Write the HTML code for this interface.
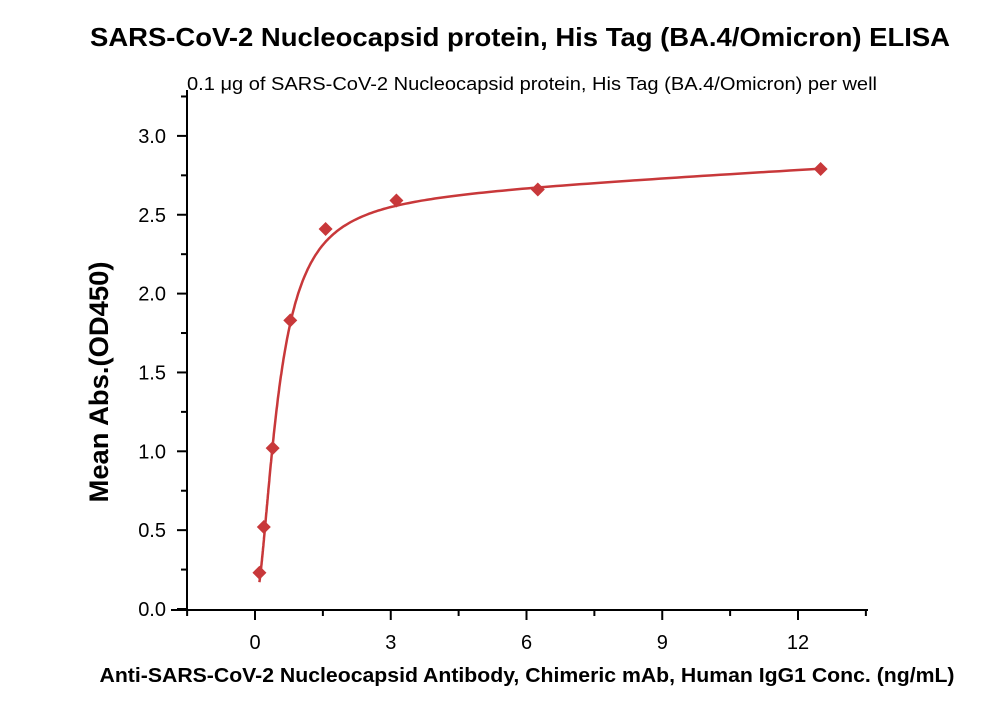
<!DOCTYPE html>
<html><head><meta charset="utf-8"><style>
body{margin:0;background:#fff;width:1000px;height:714px;overflow:hidden}
svg{display:block}
text{font-family:"Liberation Sans",sans-serif;fill:#000}
</style></head><body>
<svg id="s" width="1000" height="714" xmlns="http://www.w3.org/2000/svg">
<text x="520" y="46" font-size="26" font-weight="bold" text-anchor="middle" textLength="860" lengthAdjust="spacingAndGlyphs">SARS-CoV-2 Nucleocapsid protein, His Tag (BA.4/Omicron) ELISA</text>
<text x="532" y="90" font-size="18" text-anchor="middle" textLength="690" lengthAdjust="spacingAndGlyphs">0.1 μg of SARS-CoV-2 Nucleocapsid protein, His Tag (BA.4/Omicron) per well</text>
<text x="527" y="682" font-size="20" font-weight="bold" text-anchor="middle" textLength="855" lengthAdjust="spacingAndGlyphs">Anti-SARS-CoV-2 Nucleocapsid Antibody, Chimeric mAb, Human IgG1 Conc. (ng/mL)</text>
<text transform="translate(108,382) rotate(-90)" font-size="27" font-weight="bold" text-anchor="middle" textLength="241" lengthAdjust="spacingAndGlyphs">Mean Abs.(OD450)</text>
<g id="ax" stroke="#000" stroke-width="2" fill="none"></g>
<g id="lbl" font-size="20"></g>
<path id="cv" fill="none" stroke="#c8383a" stroke-width="2.5"/>
<g id="pts" fill="#c8383a"></g>
</svg>
<script>
const X=v=>255+v*45.25, Y=v=>609-v*157.7;
const ax=document.getElementById('ax'),lbl=document.getElementById('lbl');
let h='<path d="M187 90 V610 M171 610 H868"/>';
for(let i=0;i<=6;i++){const y=Y(i*0.5);h+=`<path d="M177 ${y} H187"/>`;if(i<6)h+=`<path d="M181 ${Y(i*0.5+0.25)} H187"/>`;}
h+=`<path d="M181 ${Y(3.25)} H187"/>`;
for(let v=-1.5;v<=13.5;v+=1.5){const x=X(v);if(x<187||x>868)continue;const maj=Math.abs(v%3)<1e-9;h+=`<path d="M${x} 610 V${maj?620:616}"/>`;}
ax.innerHTML=h;
let t='';
for(let i=0;i<=6;i++)t+=`<text x="166" y="${Y(i*0.5)+7}" text-anchor="end">${(i*0.5).toFixed(1)}</text>`;
for(const v of [0,3,6,9,12])t+=`<text x="${X(v)}" y="649" text-anchor="middle">${v}</text>`;
lbl.innerHTML=t;
const f=x=>2.6*Math.pow(x,1.8)/(Math.pow(0.5,1.8)+Math.pow(x,1.8))+0.016*x+0.05*Math.exp(-x*3);
let d='';for(let x=0.098;x<=12.5;x*=1.02){d+=(d?'L':'M')+X(x).toFixed(1)+' '+Y(f(x)).toFixed(1);}
d+='L'+X(12.5)+' '+Y(f(12.5));
document.getElementById('cv').setAttribute('d',d);
const P=[[0.098,0.23],[0.195,0.52],[0.39,1.02],[0.78,1.83],[1.56,2.41],[3.125,2.59],[6.25,2.66],[12.5,2.79]];
document.getElementById('pts').innerHTML=P.map(([a,b])=>{const x=X(a),y=Y(b);return `<path d="M${x} ${y-7}L${x+7} ${y}L${x} ${y+7}L${x-7} ${y}Z"/>`}).join('');
</script>
</body></html>
